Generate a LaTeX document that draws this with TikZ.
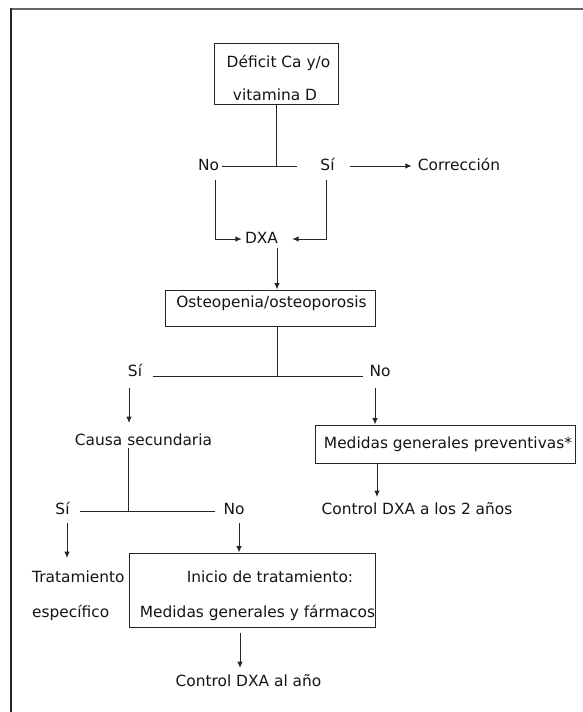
\documentclass[tikz,border=0pt]{standalone}
\usepackage{fontspec}
\setmainfont{DejaVu Sans}
\usetikzlibrary{arrows.meta}
\begin{document}
\begin{tikzpicture}[x=1pt,y=-1pt,
  txt/.style={inner sep=0pt, font=\fontsize{15.4}{18}\selectfont, text height=11pt, text depth=3pt, text=black!92},
  box/.style={draw=black!85, line width=1pt, inner sep=0pt},
  ln/.style={draw=black!85, line width=1pt},
  arr/.style={ln, -{Latex[length=6.5pt,width=5.5pt]}}]
\useasboundingbox (0,0) rectangle (583,712);
% frame
\draw[line width=2pt, black!60] (10.5,8.5) -- (583,8.5);
\draw[line width=1.5pt, black!85] (11,7.5) -- (11,712);

% boxes
\node[box, minimum width=124pt, minimum height=61pt] (b1) at (276,73.5) {};
\node[box, minimum width=210pt, minimum height=36pt] (b2) at (270,308) {};
\node[box, minimum width=260pt, minimum height=38pt] (b3) at (445,444) {};
\node[box, minimum width=246pt, minimum height=74pt] (b4) at (252,590) {};

% texts
\node[txt] (d1) at (278.5,63) {Déficit Ca y/o};
\node[txt] (d2) at (275,96) {vitamina D};
\node[txt] (no1) at (208.5,166) {No};
\node[txt] (si1) at (327.5,166) {Sí};
\node[txt] (corr) at (459,166) {Corrección};
\node[txt] (dxa) at (261.5,239) {DXA};
\node[txt] (op) at (271.5,303) {Osteopenia/osteoporosis};
\node[txt] (si2) at (135,372) {Sí};
\node[txt] (no2) at (380,372) {No};
\node[txt] (cs) at (143.5,441) {Causa secundaria};
\node[txt] (mp) at (448,444) {Medidas generales preventivas*};
\node[txt] (c2) at (417,510) {Control DXA a los 2 años};
\node[txt] (si3) at (62.5,510) {Sí};
\node[txt] (no3) at (234,510) {No};
\node[txt, anchor=west] (t1) at (32,578) {Tratamiento};
\node[txt, anchor=west] (t2) at (32,613) {específico};
\node[txt] (i1) at (270,578) {Inicio de tratamiento:};
\node[txt] (i2) at (257.5,613) {Medidas generales y fármacos};
\node[txt] (c3) at (248.5,682) {Control DXA al año};

% coordinates
\coordinate (j1) at (276,166);
\coordinate (h1a) at (222,166);
\coordinate (h1b) at (297,166);
\coordinate (a1) at (215,180);
\coordinate (a2) at (326,180);
\coordinate (a3) at (277,248);
\coordinate (j2) at (277,376);
\coordinate (h2a) at (153,376);
\coordinate (h2b) at (363,376);
\coordinate (a4) at (129,388);
\coordinate (e4) at (129,423);
\coordinate (a5) at (375,388);
\coordinate (a6) at (377,497);
\coordinate (j3) at (128,511);
\coordinate (h3a) at (80,511);
\coordinate (h3b) at (215,511);
\coordinate (a7) at (67,523);
\coordinate (e7) at (67,558);
\coordinate (a8) at (239,523);
\coordinate (a9) at (240,633);
\coordinate (e9) at (240,668);

% connectors
\draw[ln] (b1.south -| j1) -- (j1);
\draw[ln] (h1a) -- (h1b);
\draw[arr] ([xshift=15pt]si1.east) -- ([xshift=-6pt]corr.west);
\draw[arr] (a1) |- ([xshift=-3pt]dxa.west);
\draw[arr] (a2) |- ([xshift=14pt]dxa.east);
\draw[arr] (a3) -- (a3 |- b2.north);
\draw[ln] (j2 |- b2.south) -- (j2);
\draw[ln] (h2a) -- (h2b);
\draw[arr] (a4) -- (e4);
\draw[arr] (a5) -- (a5 |- b3.north);
\draw[arr] (a6 |- b3.south) -- (a6);
\draw[ln] (j3 |- cs.south) -- (j3);
\draw[ln] (h3a) -- (h3b);
\draw[arr] (a7) -- (e7);
\draw[arr] (a8) -- (a8 |- b4.north);
\draw[arr] (a9) -- (e9);
\end{tikzpicture}
\end{document}
